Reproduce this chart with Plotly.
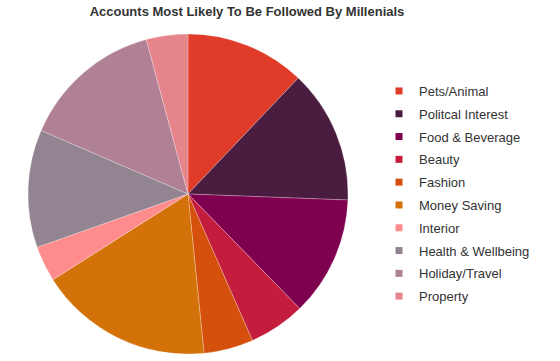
import plotly.graph_objects as go

categories = ["Pets/Animal", "Politcal Interest", "Food & Beverage", "Beauty", "Fashion",
              "Money Saving", "Interior", "Health & Wellbeing", "Holiday/Travel", "Property"]
values = [12.1, 13.5, 12.1, 5.7, 5.0, 17.6, 3.6, 11.9, 14.3, 4.2]
colors = ["#e03a28", "#4a1c40", "#800050", "#c41c3c", "#d4500c",
          "#d4720a", "#ff8c8c", "#928490", "#b08094", "#e6848c"]

W, H = 560, 361
fig = go.Figure(go.Pie(
    labels=categories, values=values, sort=False, direction="clockwise", rotation=0,
    marker=dict(colors=colors, line=dict(color="rgba(255,255,255,0.5)", width=0.5)),
    textinfo="none", hoverinfo="label+percent", showlegend=False,
    domain=dict(x=[28 / W, 348 / W], y=[1 - 354 / H, 1 - 34 / H]),
))
# legend entries (small square swatches, one group each for spacing)
for cat, col in zip(categories, colors):
    fig.add_trace(go.Scatter(
        x=[None], y=[None], mode="markers", name=cat, legendgroup=cat,
        marker=dict(symbol="square", size=7, color=col), hoverinfo="skip",
    ))
fig.update_layout(
    width=W, height=H, margin=dict(l=0, r=0, t=0, b=0),
    paper_bgcolor="white", plot_bgcolor="white",
    xaxis=dict(visible=False), yaxis=dict(visible=False),
    font=dict(family="Liberation Sans, Arial, sans-serif", color="#333333"),
    title=dict(text="<b>Accounts Most Likely To Be Followed By Millenials</b>",
               x=247 / W, xanchor="center", y=1 - 11 / H, yanchor="middle",
               font=dict(size=13, color="#333333")),
    legend=dict(x=379 / W, xanchor="left", y=1 - 76 / H, yanchor="top",
                font=dict(size=13, color="#333333"), bgcolor="rgba(0,0,0,0)",
                tracegroupgap=2.9),
)
fig.write_html("out.html", config={"displayModeBar": False},
               post_script="document.body.style.margin='0';")
